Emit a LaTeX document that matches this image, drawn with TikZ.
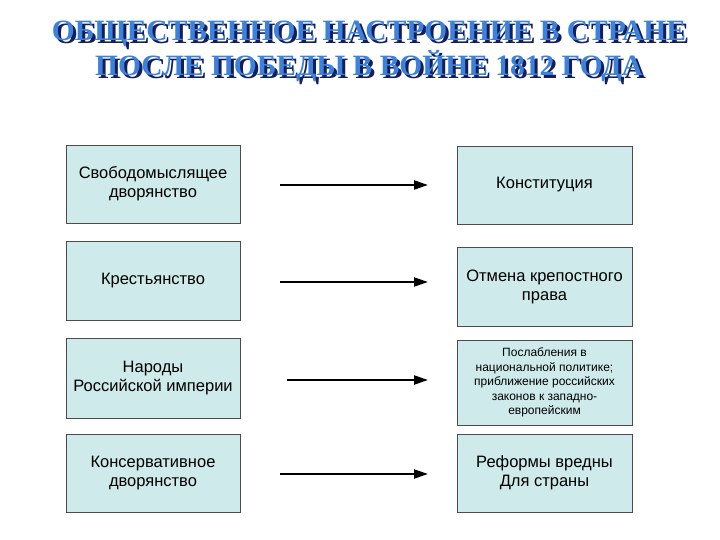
\documentclass[tikz,border=0pt]{standalone}
\usepackage{fontspec}
\usetikzlibrary{arrows.meta}
\setmainfont{Liberation Sans}
\newfontfamily\titlefont{Liberation Serif}
\begin{document}
\begin{tikzpicture}[x=1pt,y=-1pt,
  box/.style={draw=black!70,line width=0.6pt,fill=boxc,align=center,inner sep=1pt,font=\fontsize{16.5}{19}\selectfont},
  arr/.style={-{Triangle[length=14pt,width=9pt]},line width=2.2pt},
  ttl/.style={font=\titlefont\bfseries\fontsize{29.5}{35}\selectfont,align=center}]
\definecolor{boxc}{RGB}{206,234,234}
\definecolor{tblue}{RGB}{60,130,220}
\definecolor{tdark}{RGB}{20,30,90}
\useasboundingbox (0,0) rectangle (720,540);
\node[ttl,text=tdark] (ts) at (372,54) {ОБЩЕСТВЕННОЕ НАСТРОЕНИЕ В СТРАНЕ\\ПОСЛЕ ПОБЕДЫ В ВОЙНЕ 1812 ГОДА};
\node[ttl,text=tblue] (t) at (369,51) {ОБЩЕСТВЕННОЕ НАСТРОЕНИЕ В СТРАНЕ\\ПОСЛЕ ПОБЕДЫ В ВОЙНЕ 1812 ГОДА};
\node[box,minimum width=174,minimum height=78] (l1) at (153,184) {Свободомыслящее\\дворянство};
\node[box,minimum width=174,minimum height=79] (l2) at (153,281) {Крестьянство};
\node[box,minimum width=174,minimum height=80] (l3) at (153,378) {Народы\\Российской империи};
\node[box,minimum width=174,minimum height=78] (l4) at (153,473) {Консервативное\\дворянство};
\node[box,minimum width=175,minimum height=78] (r1) at (544.5,185) {Конституция};
\node[box,minimum width=175,minimum height=79] (r2) at (544.5,286.5) {Отмена крепостного\\права};
\node[box,minimum width=175,minimum height=85,font=\fontsize{12}{14.5}\selectfont] (r3) at (544.5,382.5) {Послабления в\\национальной политике;\\приближение российских\\законов к западно-\\европейским};
\node[box,minimum width=175,minimum height=78] (r4) at (544.5,473) {Реформы вредны\\Для страны};
\coordinate (a1) at (280,185); \coordinate (b1) at (428,185);
\coordinate (a2) at (280,282); \coordinate (b2) at (428,282);
\coordinate (a3) at (287,380); \coordinate (b3) at (428,380);
\coordinate (a4) at (280,474); \coordinate (b4) at (428,474);
\draw[arr] (a1) -- (b1);
\draw[arr] (a2) -- (b2);
\draw[arr] (a3) -- (b3);
\draw[arr] (a4) -- (b4);
\end{tikzpicture}
\end{document}
